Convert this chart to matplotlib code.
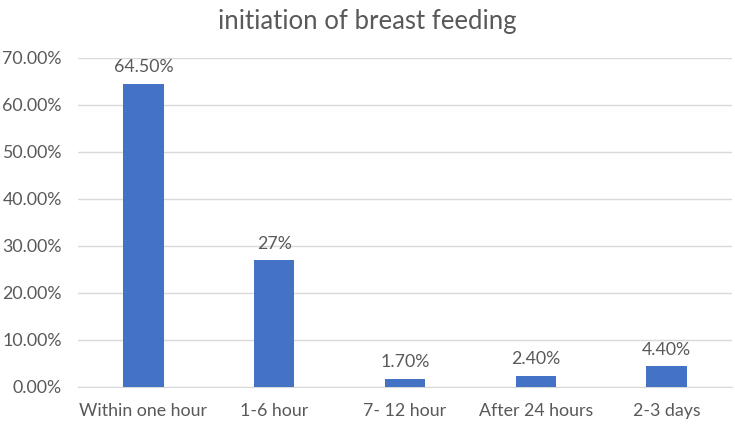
import numpy as np
import matplotlib.pyplot as plt
from matplotlib.ticker import FuncFormatter

# -------------------------------------------------
# Data
# -------------------------------------------------

categories = ["Within one hour", "1-6 hour", "7- 12 hour", "After 24 hours", "2-3 days"]
values = [64.5, 27.0, 1.7, 2.4, 4.4]
value_labels = ["64.50%", "27%", "1.70%", "2.40%", "4.40%"]

bar_color = "#4472C4"
text_color = "#595959"

plt.rcParams["font.family"] = ["Lato", "DejaVu Sans"]

# -------------------------------------------------
# Plot
# -------------------------------------------------

fig = plt.figure(figsize=(7.35, 4.26), dpi=100)
ax = fig.add_axes([0.106, 0.092, 0.89, 0.772])

x = np.arange(len(categories))
ax.bar(x, values, width=0.31, color=bar_color, zorder=3)

for xi, v, lab in zip(x, values, value_labels):
    ax.text(xi, v + 1.8, lab, ha="center", va="bottom",
            fontsize=12.8, color=text_color)

ax.set_xlim(-0.5, len(categories) - 0.5)
ax.set_ylim(0, 70)
ax.set_yticks(np.arange(0, 71, 10))
ax.yaxis.set_major_formatter(FuncFormatter(lambda v, p: f"{v:.2f}%"))
ax.set_xticks(x)
ax.set_xticklabels(categories)

ax.grid(axis="y", color="#D9D9D9", linewidth=1, zorder=0)
for side in ["top", "right", "left"]:
    ax.spines[side].set_visible(False)
ax.spines["bottom"].set_color("#D9D9D9")
ax.tick_params(length=0, labelsize=12.8, colors=text_color)
ax.tick_params(axis="x", pad=12)
ax.tick_params(axis="y", pad=11.5)

fig.suptitle("initiation of breast feeding", y=0.98, fontsize=18.5, color=text_color)

plt.savefig("out.png", dpi=100)
